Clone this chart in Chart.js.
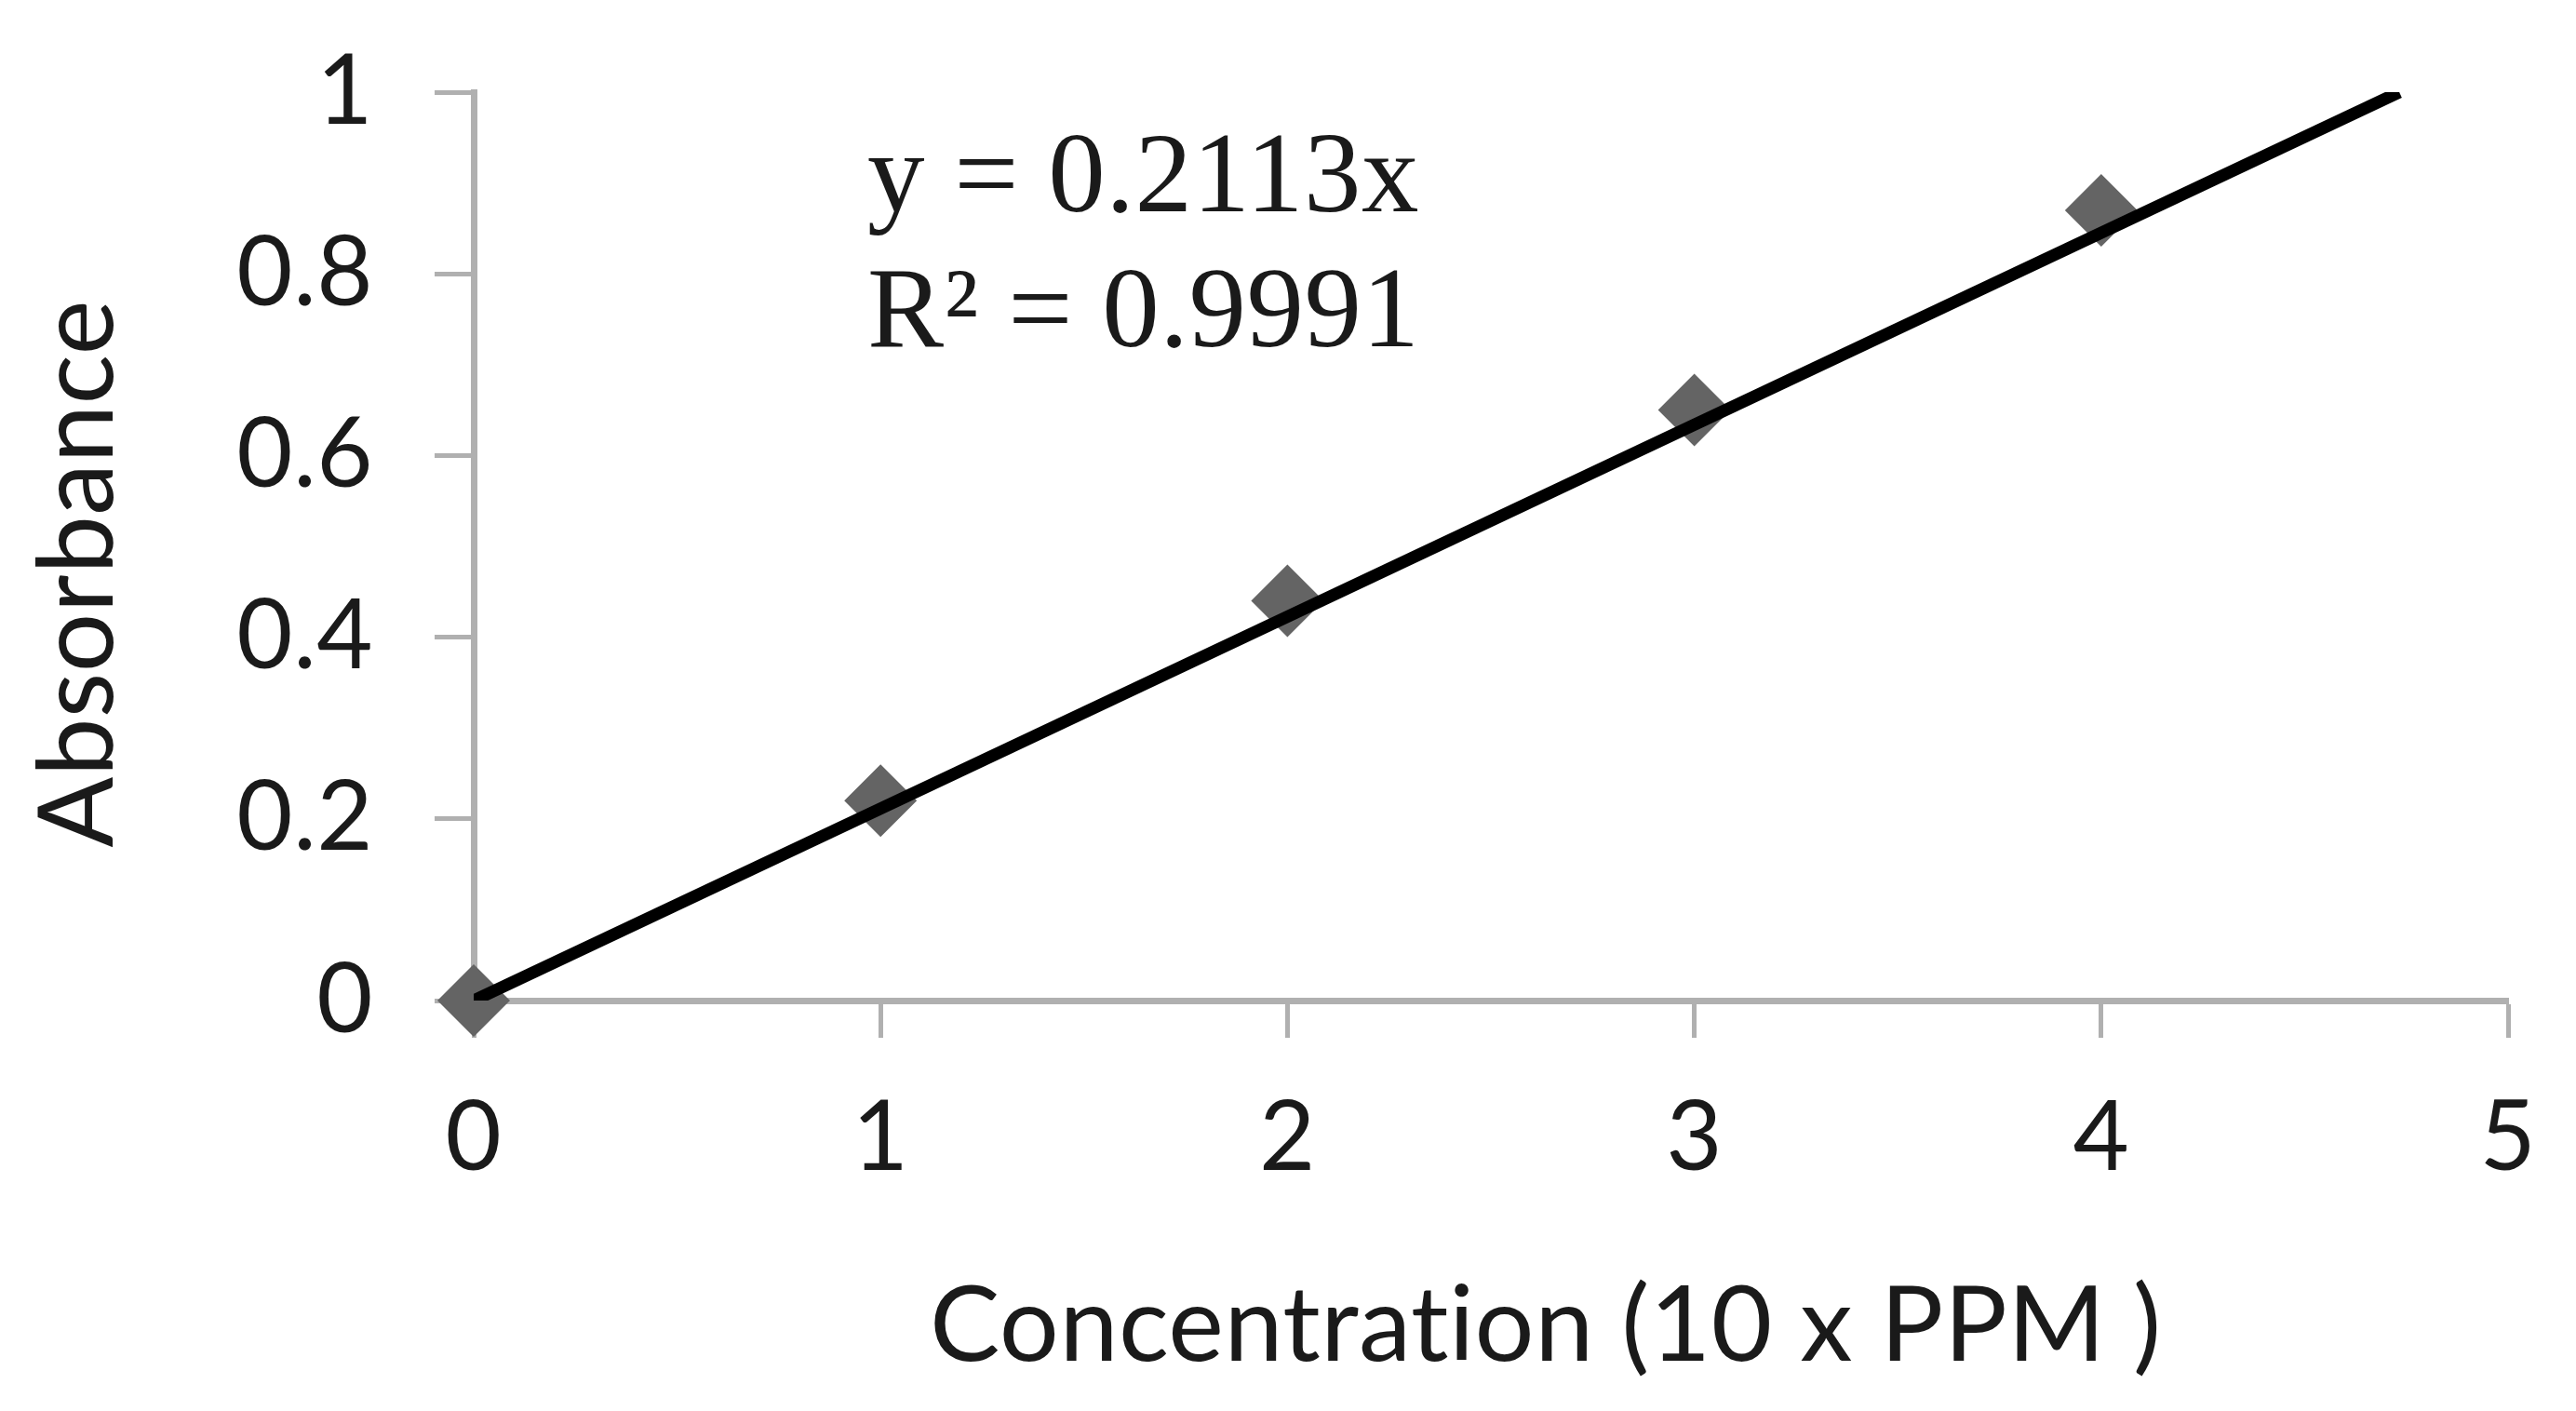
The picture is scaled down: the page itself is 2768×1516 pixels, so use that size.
<!DOCTYPE html>
<html>
<head>
<meta charset="utf-8">
<script src="https://cdn.jsdelivr.net/npm/chart.js@4.4.1/dist/chart.umd.min.js"></script>
<style>
  html, body { margin: 0; padding: 0; background: #fff; }
  canvas { display: block; }
</style>
</head>
<body>
<canvas id="absChart" width="2768" height="1516"></canvas>
<script>
// calibration data
const concentration = [0, 1, 2, 3, 4];
const absorbance = [0, 0.22, 0.44, 0.65, 0.87];
const slope = 0.2113;
const equationLines = ["y = 0.2113x", "R² = 0.9991"];
const xTicks = [0, 1, 2, 3, 4, 5];
const yTicks = [0, 0.2, 0.4, 0.6, 0.8, 1];
const xTitle = "Concentration (10 x PPM )";
const yTitle = "Absorbance";

const axisGray = "#b0b0b0";
const textColor = "#1a1a1a";

const points = concentration.map((c, i) => ({ x: c, y: absorbance[i] }));
// Excel-style linear trendline through origin, stops at the top of the y axis
const yMax = yTicks[yTicks.length - 1];
const trend = [{ x: 0, y: 0 }, { x: yMax / slope, y: yMax }];

// letter spacing keeps Lato from swapping "ti" for its ligature glyph
const noLigatures = {
  id: "noLigatures",
  beforeDraw(chart) {
    chart.ctx.letterSpacing = "0.5px";
  }
};

const equationLabel = {
  id: "equationLabel",
  afterDraw(chart) {
    const ctx = chart.ctx;
    ctx.save();
    ctx.font = "123px 'Liberation Serif'";
    ctx.fillStyle = textColor;
    ctx.textBaseline = "alphabetic";
    ctx.fillText(equationLines[0], 932, 227);
    ctx.fillText(equationLines[1], 932, 372);
    ctx.restore();
  }
};

const chart = new Chart(document.getElementById("absChart"), {
  type: "scatter",
  data: {
    datasets: [
      {
        label: "Trendline",
        type: "line",
        data: trend,
        borderColor: "#000",
        borderWidth: 13,
        pointRadius: 0,
        fill: false,
        order: 0
      },
      {
        label: "Absorbance",
        data: points,
        pointStyle: "rectRot",
        pointRadius: 39,
        pointHoverRadius: 39,
        backgroundColor: "#646464",
        borderWidth: 0,
        clip: false,
        order: 1
      }
    ]
  },
  options: {
    responsive: false,
    devicePixelRatio: 1,
    animation: false,
    layout: { autoPadding: false, padding: { top: 99, right: 73, left: 0, bottom: 0 } },
    plugins: {
      legend: { display: false },
      tooltip: { enabled: false }
    },
    scales: {
      x: {
        type: "linear",
        min: xTicks[0],
        max: xTicks[xTicks.length - 1],
        afterBuildTicks: s => { s.ticks = xTicks.map(v => ({ value: v })); },
        // tick padding would otherwise eat into the plot area
        afterFit: s => { s.height = 441; s.paddingLeft = 0; s.paddingRight = 0; },
        border: { display: true, color: axisGray, width: 7 },
        grid: { drawOnChartArea: false, drawTicks: true, tickLength: 40, tickWidth: 5, tickColor: axisGray },
        ticks: { font: { family: "Lato", size: 104 }, color: textColor, padding: 46, maxRotation: 0 },
        title: {
          display: true,
          text: "    " + xTitle,
          font: { family: "Lato", size: 113 },
          color: textColor,
          padding: { top: 0, bottom: 23 }
        }
      },
      y: {
        type: "linear",
        min: yTicks[0],
        max: yMax,
        afterBuildTicks: s => { s.ticks = yTicks.map(v => ({ value: v })); },
        afterFit: s => { s.width = 509; s.paddingTop = 0; s.paddingBottom = 0; },
        border: { display: true, color: axisGray, width: 7 },
        grid: { drawOnChartArea: false, drawTicks: true, tickLength: 42, tickWidth: 5, tickColor: axisGray },
        ticks: {
          font: { family: "Lato", size: 104 },
          color: textColor,
          padding: 66,
          callback: v => String(v)
        },
        title: {
          display: true,
          text: yTitle + "  ",
          font: { family: "Lato", size: 112 },
          color: textColor,
          padding: { top: 18, bottom: 0 }
        }
      }
    }
  },
  plugins: [noLigatures, equationLabel]
});
</script>
</body>
</html>
